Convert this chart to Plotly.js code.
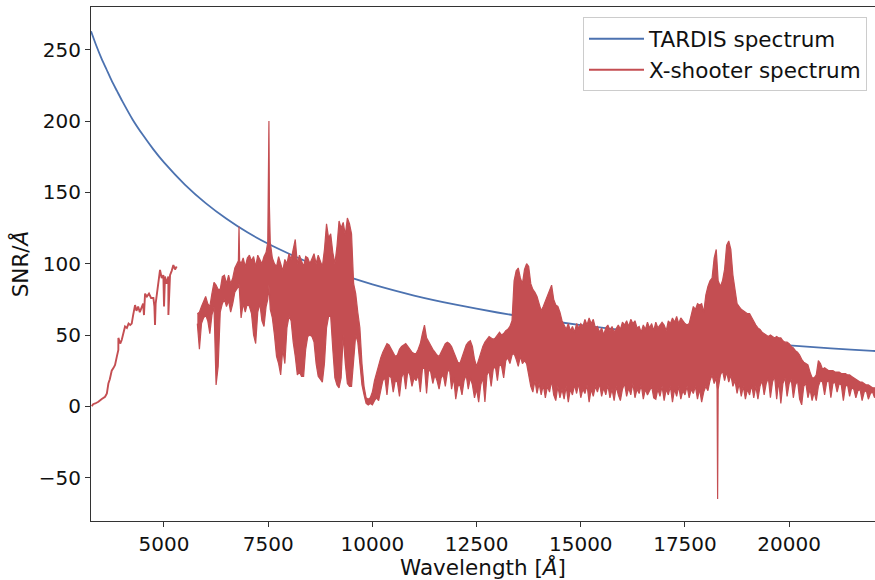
<!DOCTYPE html>
<html>
<head>
<meta charset="utf-8">
<script src="https://cdn.plot.ly/plotly-3.0.1.min.js"></script>
<style>html,body{margin:0;padding:0;background:#fff;}#chart{width:875px;height:580px;}</style>
</head>
<body>
<div id="chart"></div>
<script>
// TARDIS model SNR
const tardisWl  = [3250,3375,3500,3625,3750,3875,4000,4250,4500,4750,5000,5500,6000,6500,7000,7500,8000,8500,9000,9500,10000,11000,12000,13000,14000,15000,16000,17000,18000,19000,20000,21000,22000,22100];
const tardisSnr = [263,253,244,236,228,221,214,201,190,180,171,155.5,142.5,131.5,122,114,107,100.5,95,90,85.5,77.7,71.3,65.8,61,57,53.4,50.3,47.5,45,42.8,40.7,38.9,38.7];

// X-shooter UVB arm (thin line)
const uvbWl  = [3267,3300,3350,3426,3500,3586,3630,3666,3700,3746,3790,3826,3870,3905,3906,3950,3986,4030,4066,4110,4150,4190,4226,4260,4306,4340,4380,4420,4466,4500,4520,4546,4590,4640,4690,4746,4770,4785,4800,4826,4860,4905,4945,4985,5001,5025,5060,5090,5105,5106,5145,5185,5225,5265,5305];
const uvbSnr = [0,1.5,2,3.2,5,6.7,9,16,19,25,27,29,35,39.5,48,44,46.5,52,56,55,58,57,58,64,71,67,70,66,69,72,64,79,77,79,76,76,70,57,72,77,84,95.6,90,92,70,91,86,90,91,64,92,95,99,96,98];

// X-shooter VIS + NIR arms: upper / lower edges of the noisy trace, per stretch
// A: 5800-7000
const wlA = [5800,5850,5900,5950,6000,6050,6100,6150,6200,6250,
             6300,6350,6400,6450,6500,6550,6600,6650,6700,6750,
             6785,6800,6815,6850,6900,6950,7000];
const upA = [65,66,70,74,77,72,70,79,87,85,
             82,82,91,92,86,92,86,90,97,100,
             102,126,102,100,104,98,104];
const loA = [58,40,58,62,64,60,51,64,70,15,
             28,66,72,75,70,74,66,72,80,82,
             84,86,80,62,72,66,72];
// B: 7050-9900
const wlB = [7050,7100,7150,7200,7250,7300,7350,7400,7450,7490,
             7505,7518,7530,7550,7600,7650,7700,7750,7800,7850,
             7900,7950,8000,8050,8100,8150,8200,8250,8300,8350,
             8400,8450,8500,8550,8600,8650,8700,8750,8800,8850,
             8900,8950,9000,9050,9100,9150,9200,9250,9300,9350,
             9400,9450,9500,9550,9600,9650,9700,9750,9800,9850,9900];
const upB = [106,102,105,98,106,103,100,105,108,115,
             145,200,140,115,104,100,98,105,100,95,
             103,100,107,103,110,117,100,106,102,98,
             105,104,100,103,107,100,106,102,98,110,
             128,118,121,108,100,112,130,125,129,120,
             132,128,121,86,79,66,55,30,14,6,5];
const loB = [70,65,50,44,66,72,60,56,70,75,
             80,85,80,68,62,50,35,30,22,40,
             30,55,63,60,45,35,22,24,21,21,
             40,49,50,49,45,30,21,19,17,30,
             55,63,63,40,20,15,13,20,50,30,
             16,14,14,30,50,45,30,15,8,2,1];
// C: 9950-13300
const wlC = [9950,10000,10050,10100,10150,10200,10250,10300,10350,10400,
             10450,10500,10550,10600,10650,10700,10750,10800,10850,10900,
             10950,11000,11050,11100,11150,11200,11250,11300,11350,11400,
             11450,11500,11550,11600,11650,11700,11750,11800,11850,11900,
             11950,12000,12050,12100,12150,12200,12250,12300,12350,12400,
             12450,12500,12550,12600,12650,12700,12750,12800,12850,12900,
             12950,13000,13050,13100,13150,13200,13250,13300];
const upC = [6,10,18,24,30,34,38,41,44,43,
             40,37,35,36,40,42,43,44,42,40,
             38,37,37,40,44,51,57,48,45,42,
             40,38,36,35,38,41,44,45,44,42,
             38,34,31,30,34,39,43,45,46,42,
             33,28,33,38,42,45,47,49,48,47,
             48,50,52,50,51,53,54,56];
const loC = [2,1,4,6,4,12,18,20,8,22,
             20,10,18,17,7,20,24,12,25,22,
             14,20,18,22,10,26,28,9,26,24,
             16,22,18,12,20,22,14,24,26,12,
             20,5,14,15,8,18,22,12,20,15,
             6,12,3,15,20,3,22,25,14,26,
             28,18,30,28,20,32,34,30];
// D: 13350-19250
const wlD = [13350,13400,13450,13500,13550,13600,13650,13700,13750,13800,
             13850,13900,13950,14000,14050,14100,14150,14200,14250,14300,
             14350,14400,14450,14500,14550,14600,14650,14700,14750,14800,
             14850,14900,14950,15000,15050,15100,15150,15200,15250,15300,
             15350,15400,15450,15500,15550,15600,15650,15700,15750,15800,
             15850,15900,15950,16000,16050,16100,16150,16200,16250,16300,
             16350,16400,16450,16500,16550,16600,16650,16700,16750,16800,
             16850,16900,16950,17000,17050,17100,17150,17200,17250,17300,
             17350,17400,17450,17500,17550,17600,17650,17700,17750,17800,
             17850,17900,17950,18000,18050,18100,18150,18200,18250,18270,
             18283,18296,18350,18400,18450,18500,18550,18600,18650,18700,
             18750,18800,18850,18900,18950,19000,19050,19100,19150,19200,
             19250];
const upD = [60,88,95,97,90,86,96,100,98,86,
             82,80,77,72,67,70,74,78,82,85,
             75,71,70,66,60,57,54,58,53,56,
             52,58,55,58,56,61,57,62,58,61,
             55,56,52,55,50,55,57,53,56,52,
             55,57,54,59,57,60,56,61,58,60,
             55,56,52,57,54,59,55,58,53,59,
             55,57,59,57,53,60,58,62,59,63,
             58,62,60,58,57,58,64,70,68,72,
             71,72,66,78,84,88,90,104,110,100,
             92,88,84,88,96,113,116,110,92,81,
             72,70,68,67,66,65,65,62,60,57,
             55];
const loD = [36,37,33,28,35,30,32,30,22,14,
             10,18,9,16,8,15,6,14,10,18,
             8,4,14,6,12,5,14,3,12,8,
             15,9,16,6,12,9,15,3,12,7,
             14,10,16,7,13,8,15,6,12,4,
             14,8,4,12,16,7,13,8,16,6,
             12,9,15,5,12,8,11,14,6,5,
             12,7,14,4,12,8,14,3,12,7,
             14,5,11,8,14,6,12,9,14,5,
             12,3,10,14,11,18,22,16,20,12,
             -65,12,22,25,18,24,17,22,14,18,
             9,16,7,14,5,12,8,15,6,14,
             5];
// E: 19300-22050
const wlE = [19300,19350,19400,19450,19500,19550,19600,19650,19700,19750,
             19800,19850,19900,19950,20000,20050,20100,20150,20200,20250,
             20300,20350,20400,20450,20500,20550,20600,20650,20700,20750,
             20800,20850,20900,20950,21000,21050,21100,21150,21200,21250,
             21300,21350,21400,21450,21500,21550,21600,21650,21700,21750,
             21800,21850,21900,21950,22000,22050];
const upE = [54,52,51,50,49,50,49,48,49,48,
             48,46,45,45,44,42,41,39,38,36,
             33,31,30,29,24,20,20,22,32,30,
             26,27,26,25,25,25,24,24,24,23,
             23,23,22,22,21,20,19,18,17,17,
             16,15,15,14,13,13];
const loE = [14,18,8,16,20,6,17,21,5,18,
             2,16,20,7,16,19,6,15,18,5,
             1,14,16,6,12,4,10,4,14,18,
             17,8,17,18,6,16,17,10,16,15,
             4,14,15,7,13,12,6,11,12,4,
             10,11,5,9,10,6];

const tickVals = [5000,7500,10000,12500,15000,17500,20000];
const tickText = ['5000','7500','10000','12500','15000','17500','20000'];

const BLUE = '#4C72B0', RED = '#C44E52';

const xsWl = [].concat(wlA, wlB, wlC, wlD, wlE);
const xsUp = [].concat(upA, upB, upC, upD, upE);
const xsLo = [].concat(loA, loB, loC, loD, loE);
// closed outline of the noisy band: upper edge forward, lower edge backward
const polyX = xsWl.concat(xsWl.slice().reverse());
const polyY = xsUp.concat(xsLo.slice().reverse());

const traces = [
  {x: tardisWl, y: tardisSnr, type: 'scatter', mode: 'lines', name: 'TARDIS spectrum',
   line: {color: BLUE, width: 1.8, shape: 'spline', smoothing: 0.6}},
  {x: uvbWl, y: uvbSnr, type: 'scatter', mode: 'lines', name: 'X-shooter spectrum',
   line: {color: RED, width: 1.9}},
  {x: polyX, y: polyY, type: 'scatter', mode: 'lines', name: 'X-shooter spectrum',
   showlegend: false, fill: 'toself', fillcolor: RED, line: {color: RED, width: 1.2}}
];

const tickFont = {family: 'DejaVu Sans, sans-serif', size: 20, color: '#111'};
const titleFont = {family: 'DejaVu Sans, sans-serif', size: 21.5, color: '#111'};
const layout = {
  width: 875, height: 580,
  margin: {l: 91, r: 0, t: 7, b: 59},
  paper_bgcolor: '#fff', plot_bgcolor: '#fff',
  font: tickFont,
  showlegend: true,
  legend: {x: 0.9898, xanchor: 'right', y: 0.98, yanchor: 'top',
           bgcolor: 'rgba(255,255,255,0.85)', bordercolor: '#cccccc', borderwidth: 1,
           itemwidth: 55, tracegroupgap: 0,
           font: titleFont},
  xaxis: {range: [3249, 22059], tickvals: tickVals, ticktext: tickText,
          ticks: 'outside', ticklen: 5, tickwidth: 1, tickcolor: '#333',
          showline: true, linecolor: '#333', linewidth: 1, mirror: true,
          showgrid: false, zeroline: false, tickfont: tickFont,
          title: {text: 'Wavelength [<i>Å</i>]', font: titleFont, standoff: 4}},
  yaxis: {range: [-80.4, 280], tickvals: [-50,0,50,100,150,200,250],
          ticks: 'outside', ticklen: 5, tickwidth: 1, tickcolor: '#333',
          showline: true, linecolor: '#333', linewidth: 1,
          showgrid: false, zeroline: false, tickfont: tickFont,
          title: {text: 'SNR/<i>Å</i>', font: titleFont, standoff: 4}}
};

Plotly.newPlot('chart', traces, layout, {staticPlot: true, displayModeBar: false});
</script>
</body>
</html>
